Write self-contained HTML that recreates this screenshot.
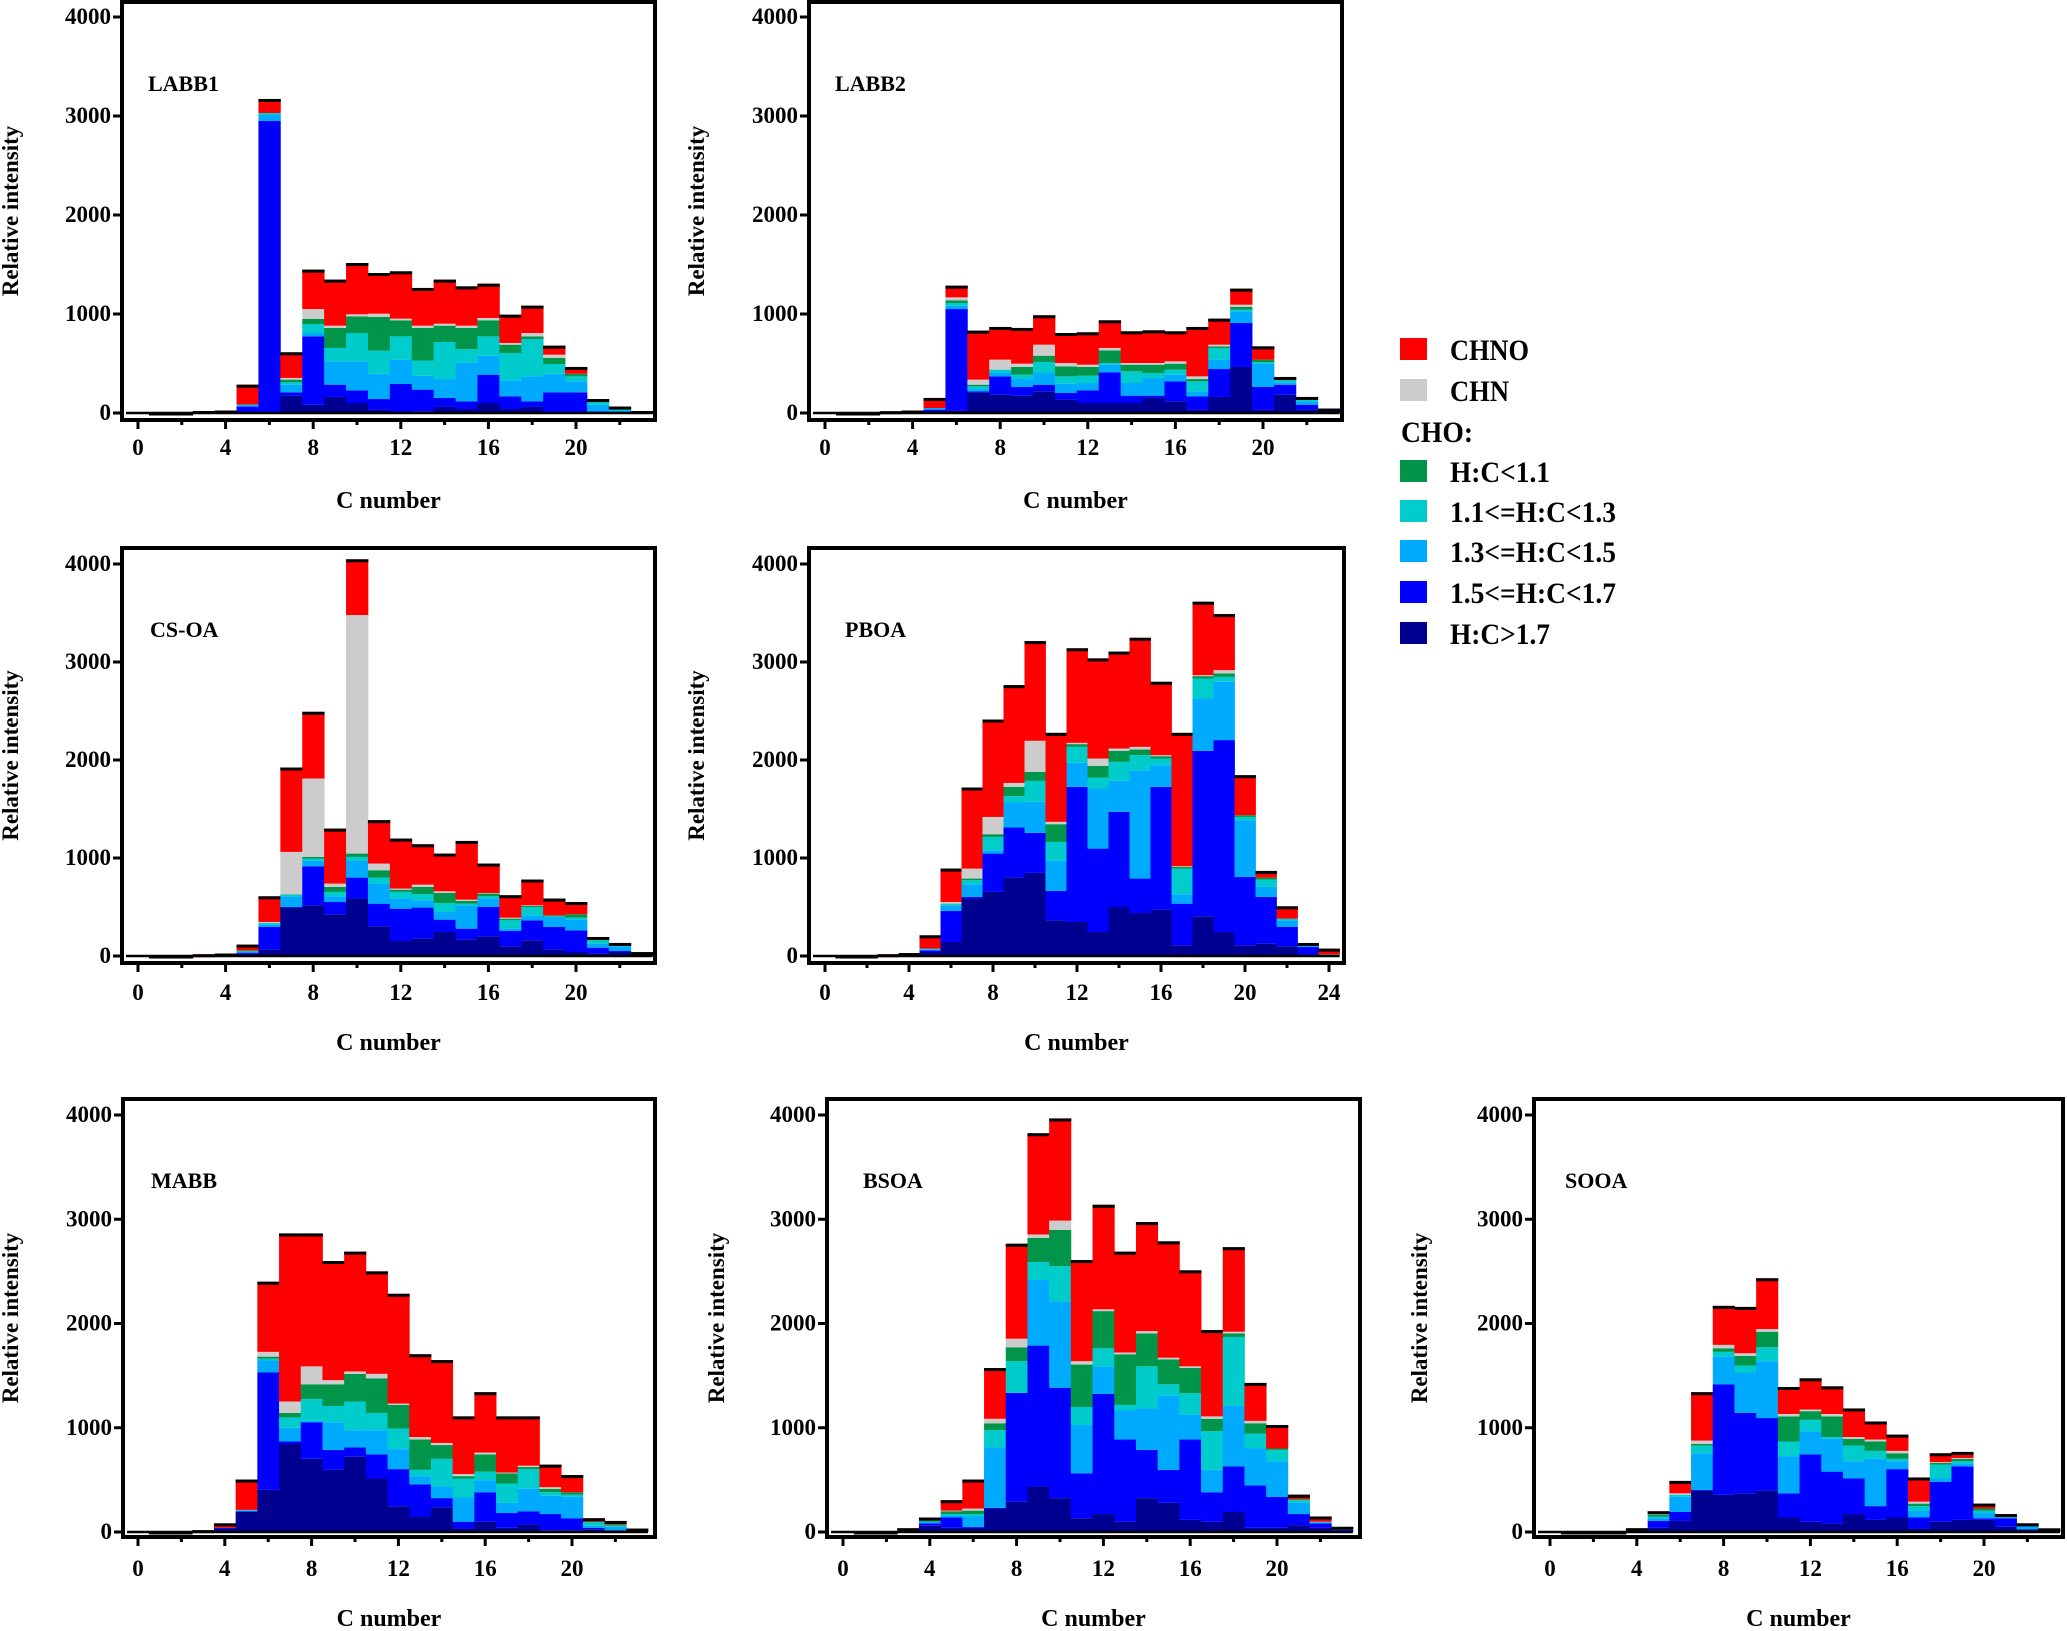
<!DOCTYPE html>
<html><head><meta charset="utf-8"><style>
html,body{margin:0;padding:0;background:#fff;}
svg{display:block;font-family:"Liberation Serif",serif;font-weight:bold;}
</style></head><body>
<svg id="chart" width="2067" height="1631" viewBox="0 0 2067 1631" xmlns="http://www.w3.org/2000/svg">
<g id="legend">
  <rect x="1400" y="338" width="27" height="22" fill="#ff0000"/>
  <text x="1450" y="360" font-size="30" textLength="79" lengthAdjust="spacingAndGlyphs">CHNO</text>
  <rect x="1400" y="379" width="27" height="22" fill="#cccccc"/>
  <text x="1450" y="401" font-size="30" textLength="59" lengthAdjust="spacingAndGlyphs">CHN</text>
  <text x="1401" y="442" font-size="30" textLength="72" lengthAdjust="spacingAndGlyphs">CHO:</text>
  <rect x="1400" y="460" width="27" height="22" fill="#009548"/>
  <text x="1450" y="482" font-size="30" textLength="100" lengthAdjust="spacingAndGlyphs">H:C&lt;1.1</text>
  <rect x="1400" y="500" width="27" height="22" fill="#00cccc"/>
  <text x="1450" y="522" font-size="30" textLength="166" lengthAdjust="spacingAndGlyphs">1.1&lt;=H:C&lt;1.3</text>
  <rect x="1400" y="540" width="27" height="22" fill="#00aaff"/>
  <text x="1450" y="562" font-size="30" textLength="166" lengthAdjust="spacingAndGlyphs">1.3&lt;=H:C&lt;1.5</text>
  <rect x="1400" y="581" width="27" height="22" fill="#0000ff"/>
  <text x="1450" y="603" font-size="30" textLength="166" lengthAdjust="spacingAndGlyphs">1.5&lt;=H:C&lt;1.7</text>
  <rect x="1400" y="622" width="27" height="22" fill="#000090"/>
  <text x="1450" y="644" font-size="30" textLength="100" lengthAdjust="spacingAndGlyphs">H:C&gt;1.7</text>
</g>
</svg>
<script>
// Categories: carbon numbers
const cNumbers23 = [1,2,3,4,5,6,7,8,9,10,11,12,13,14,15,16,17,18,19,20,21,22,23];
const cNumbers24 = [1,2,3,4,5,6,7,8,9,10,11,12,13,14,15,16,17,18,19,20,21,22,23,24];
const yTickValues = [0,1000,2000,3000,4000];
const seriesNames = ["hc-gt-1-7","hc-1-5-1-7","hc-1-3-1-5","hc-1-1-1-3","hc-lt-1-1","chn","chno"];
const seriesColors = ["#000090","#0000ff","#00aaff","#00cccc","#009548","#cccccc","#ff0000"];

// Cumulative stack tops (bottom to top)
// LABB1
const labb1Navy  = [3,3,10,0,10,0,175,84,162,101,34,7,17,61,40,101,40,61,7,7,0,0,0];
const labb1Blue  = [3,3,10,20,65,2950,209,774,286,229,141,293,236,152,118,387,168,118,209,209,17,10,15];
const labb1LBlue = [3,3,10,20,80,3010,286,808,522,522,397,539,377,343,512,579,330,370,397,320,84,25,15];
const labb1Cyan  = [3,3,15,20,85,3030,310,899,657,808,630,774,529,717,646,774,606,747,495,370,118,40,15];
const labb1Green = [3,3,15,20,85,3030,337,950,859,976,970,936,859,882,859,936,690,774,556,397,135,45,15];
const labb1Gray  = [3,3,15,20,85,3030,354,1050,882,997,1003,953,882,902,882,960,707,808,589,397,135,45,15];
const labb1Red   = [5,5,20,25,286,3172,613,1448,1347,1515,1414,1431,1263,1347,1279,1306,993,1084,680,465,141,65,20];
// LABB2
const labb2Navy  = [3,3,5,20,20,27,209,185,175,219,135,101,101,101,152,118,34,162,465,34,185,34,10];
const labb2Blue  = [3,3,5,20,34,1050,219,370,263,286,202,229,411,175,175,320,168,444,909,263,286,84,20];
const labb2LBlue = [3,3,5,20,50,1084,242,411,343,404,296,303,488,303,354,387,219,539,1027,498,310,118,25];
const labb2Cyan  = [3,3,15,20,50,1111,269,438,387,515,370,377,505,421,404,438,320,657,1044,512,330,135,45];
const labb2Green = [3,3,15,20,50,1138,286,438,465,579,471,465,633,488,488,498,343,673,1071,539,343,141,45];
const labb2Gray  = [3,3,15,20,50,1168,337,539,498,690,505,488,657,505,505,522,370,690,1094,539,343,141,45];
const labb2Red   = [5,5,18,25,152,1286,832,869,859,987,808,815,936,825,835,825,869,953,1256,673,364,162,45];
// CS-OA
const csoaNavy  = [3,3,5,20,24,65,494,517,426,586,303,153,177,245,167,201,99,160,65,41,24,41,10];
const csoaBlue  = [3,3,5,20,34,296,500,916,551,800,534,483,494,371,279,500,255,364,296,262,85,51,15];
const csoaLBlue = [3,3,5,20,41,323,609,970,609,970,739,586,569,449,517,586,279,415,398,371,126,99,30];
const csoaCyan  = [3,3,15,20,48,337,626,994,654,1011,800,654,630,541,534,609,364,500,405,391,160,109,40];
const csoaGreen = [3,3,15,20,58,337,630,1011,705,1045,875,677,705,643,562,637,381,511,415,426,177,109,40];
const csoaGray  = [3,3,15,20,58,347,1062,1811,739,3479,943,688,728,660,575,643,391,517,415,426,177,109,40];
const csoaRed   = [5,5,18,25,116,609,1923,2492,1300,4048,1386,1198,1140,1045,1174,943,620,780,586,551,194,133,40];
// PBOA
const pboaNavy  = [3,3,5,25,41,143,586,654,800,848,364,347,245,500,439,473,109,405,245,109,126,99,7,5];
const pboaBlue  = [3,3,5,25,58,460,603,1045,1311,1257,664,1726,1096,1471,790,1726,534,2094,2203,807,603,296,92,5];
const pboaLBlue = [3,3,5,25,65,517,732,1079,1566,1573,970,1971,1709,1787,1896,1947,630,2628,2798,1386,705,364,109,5];
const pboaCyan  = [3,3,15,25,75,528,773,1215,1631,1787,1164,2134,1821,1981,2049,2015,892,2832,2849,1419,779,381,133,17];
const pboaGreen = [3,3,15,25,75,534,790,1243,1726,1879,1345,2162,1940,2094,2107,2039,909,2856,2883,1436,800,381,133,17];
const pboaGray  = [3,3,15,25,75,551,892,1419,1766,2196,1369,2175,2015,2117,2134,2049,916,2866,2917,1436,800,381,133,17];
const pboaRed   = [5,5,18,30,211,892,1719,2413,2764,3213,2277,3140,3037,3106,3247,2798,2277,3615,3489,1845,868,507,133,75];
// MABB
const mabbNavy  = [3,3,15,33,192,404,844,702,596,722,513,248,149,238,33,99,40,73,17,17,26,17,10];
const mabbBlue  = [3,3,15,40,199,1530,868,1053,788,811,745,603,457,325,99,381,182,199,172,132,40,17,10];
const mabbLBlue = [3,3,15,40,205,1649,1000,1066,1053,977,977,795,536,437,331,497,281,414,348,338,60,50,10];
const mabbCyan  = [3,3,15,40,212,1662,1099,1275,1209,1252,1142,993,596,702,513,579,464,603,381,358,93,60,33];
const mabbGreen = [3,3,15,40,212,1682,1142,1417,1417,1517,1474,1219,887,834,536,745,563,623,414,381,99,73,33];
const mabbGray  = [3,3,15,40,212,1728,1252,1589,1457,1540,1517,1232,911,854,556,762,570,636,430,381,99,73,33];
const mabbRed   = [5,5,18,83,503,2401,2864,2864,2599,2689,2500,2285,1705,1649,1109,1341,1109,1109,646,546,132,106,33];
// BSOA
const bsoaNavy  = [3,3,10,60,40,40,225,291,437,325,132,172,99,325,281,116,99,192,40,40,66,40,10];
const bsoaBlue  = [3,3,10,83,139,50,232,1334,1788,1384,563,1325,887,788,596,887,381,629,447,338,172,83,20];
const bsoaLBlue = [3,3,10,99,159,149,811,1334,2417,2212,1026,1589,1166,1185,1308,1126,596,1209,801,679,281,93,25];
const bsoaCyan  = [3,3,20,99,172,172,977,1639,2589,2550,1199,1762,1219,1589,1417,1331,967,1871,944,788,305,99,50];
const bsoaGreen = [3,3,33,116,199,205,1043,1772,2821,2897,1606,2119,1705,1904,1656,1573,1086,1904,1043,801,315,99,50];
const bsoaGray  = [3,3,33,116,205,225,1086,1854,2854,2987,1639,2136,1722,1927,1672,1589,1109,1921,1066,801,315,99,50];
const bsoaRed   = [5,5,36,139,305,503,1573,2765,3825,3967,2609,3139,2689,2973,2788,2510,1937,2732,1430,1026,358,149,50];
// SOOA
const sooaNavy  = [3,3,3,33,40,106,397,358,371,397,139,99,83,172,116,139,33,99,116,116,50,26,10];
const sooaBlue  = [3,3,3,33,106,192,404,1417,1143,1093,371,745,579,513,248,603,139,480,629,132,132,26,20];
const sooaLBlue = [3,3,3,33,132,338,755,1682,1530,1639,728,967,894,679,702,679,205,513,656,182,139,60,35];
const sooaCyan  = [3,3,3,33,149,358,828,1728,1596,1772,868,1076,911,828,778,702,248,646,679,205,149,60,35];
const sooaGreen = [3,3,3,33,166,358,844,1762,1689,1921,1109,1159,1109,894,868,755,272,662,702,225,172,83,35];
const sooaGray  = [3,3,3,33,182,371,877,1795,1715,1947,1132,1175,1132,911,887,778,291,670,710,225,172,83,35];
const sooaRed   = [5,5,5,36,199,490,1341,2169,2159,2434,1391,1474,1397,1185,1060,934,523,755,768,272,172,83,35];

const SVGNS = "http://www.w3.org/2000/svg";
const svg = document.getElementById('chart');
function mk(tag, attrs, parent) {
  const e = document.createElementNS(SVGNS, tag);
  for (const k in attrs) e.setAttribute(k, attrs[k]);
  parent.appendChild(e);
  return e;
}

const panels = [
  {id:"labb1", label:"LABB1", cats:cNumbers23, series:[labb1Navy,labb1Blue,labb1LBlue,labb1Cyan,labb1Green,labb1Gray,labb1Red],
   L:122,R:655,T:2,B:420,x0:138,unit:21.9,y0:413,k:99,tickY:455,titleY:508,ytX:10,maxTick:22,lblDx:26},
  {id:"labb2", label:"LABB2", cats:cNumbers23, series:[labb2Navy,labb2Blue,labb2LBlue,labb2Cyan,labb2Green,labb2Gray,labb2Red],
   L:809,R:1342,T:2,B:420,x0:825,unit:21.9,y0:413,k:99,tickY:455,titleY:508,ytX:696,maxTick:22,lblDx:26},
  {id:"cs-oa", label:"CS-OA", cats:cNumbers23, series:[csoaNavy,csoaBlue,csoaLBlue,csoaCyan,csoaGreen,csoaGray,csoaRed],
   L:122,R:655,T:548,B:963,x0:138,unit:21.9,y0:956,k:98,tickY:1000,titleY:1050,ytX:10,maxTick:22,lblDx:28},
  {id:"pboa", label:"PBOA", cats:cNumbers24, series:[pboaNavy,pboaBlue,pboaLBlue,pboaCyan,pboaGreen,pboaGray,pboaRed],
   L:809,R:1344,T:548,B:963,x0:825,unit:21.0,y0:956,k:98,tickY:1000,titleY:1050,ytX:696,maxTick:24,lblDx:36},
  {id:"mabb", label:"MABB", cats:cNumbers23, series:[mabbNavy,mabbBlue,mabbLBlue,mabbCyan,mabbGreen,mabbGray,mabbRed],
   L:123,R:655,T:1099,B:1537,x0:138,unit:21.7,y0:1532,k:104.25,tickY:1576,titleY:1626,ytX:10,maxTick:22,lblDx:28},
  {id:"bsoa", label:"BSOA", cats:cNumbers23, series:[bsoaNavy,bsoaBlue,bsoaLBlue,bsoaCyan,bsoaGreen,bsoaGray,bsoaRed],
   L:827,R:1360,T:1099,B:1537,x0:843,unit:21.7,y0:1532,k:104.25,tickY:1576,titleY:1626,ytX:716,maxTick:22,lblDx:36},
  {id:"sooa", label:"SOOA", cats:cNumbers23, series:[sooaNavy,sooaBlue,sooaLBlue,sooaCyan,sooaGreen,sooaGray,sooaRed],
   L:1534,R:2063,T:1099,B:1537,x0:1550,unit:21.7,y0:1532,k:104.25,tickY:1576,titleY:1626,ytX:1419,maxTick:22,lblDx:31}
];

panels.forEach(p => {
  const xPix = c => p.x0 + c * p.unit;
  const yPix = v => p.y0 - v / 1000 * p.k;
  const g = mk('g', {}, svg);
  
  

  p.cats.forEach((c, i) => {
    let prev = 0;
    const xl = xPix(c - 0.5), w = p.unit + 0.4;
    p.series.forEach((arr, s) => {
      const top = Math.max(prev, arr[i]);
      if (top > prev) {
        const r = mk('rect', {x:xl, y:yPix(top), width:w, height:yPix(prev)-yPix(top), fill:seriesColors[s]}, g);
        
        
      }
      prev = top;
    });
    const cap = mk('rect', {x:xl, y:yPix(prev), width:w, height:3, fill:"#000"}, g);
    
    
  });

  const base = mk('line', {x1:p.L+4, x2:xPix(p.cats[p.cats.length-1]+0.5), y1:p.y0, y2:p.y0, stroke:"#000", "stroke-width":2.5}, g);
  
  

  const fr = mk('rect', {x:p.L, y:p.T, width:p.R-p.L, height:p.B-p.T, fill:"none", stroke:"#000", "stroke-width":4}, g);
  
  

  yTickValues.forEach(v => {
    const t = mk('line', {x1:p.L-9, x2:p.L, y1:yPix(v), y2:yPix(v), stroke:"#000", "stroke-width":3}, g);
    
    
    const tl = mk('text', {x:p.L-11, y:yPix(v)+7, "font-size":23, "text-anchor":"end"}, g);
    tl.textContent = String(v);
    
    
  });

  for (let c = 0; c <= p.maxTick; c += 2) {
    const major = c % 4 === 0;
    const t = mk('line', {x1:xPix(c), x2:xPix(c), y1:p.B, y2:p.B + (major ? 9 : 5), stroke:"#000", "stroke-width":3}, g);
    
    
    if (major) {
      const tl = mk('text', {x:xPix(c), y:p.tickY, "font-size":23, "text-anchor":"middle"}, g);
      tl.textContent = String(c);
      
      
    }
  }

  const xt = mk('text', {x:(p.L+p.R)/2, y:p.titleY, "font-size":24, "text-anchor":"middle"}, g);
  xt.textContent = "C number";
  
  
  const cy = (p.T + p.B) / 2;
  const yt = mk('text', {x:p.ytX+8, y:cy, "font-size":23, "text-anchor":"middle", transform:"rotate(-90 " + (p.ytX+8) + " " + cy + ")"}, g);
  yt.textContent = "Relative intensity";
  
  

  const pl = mk('text', {x:p.L+p.lblDx, y:p.T+89, "font-size":22}, g);
  pl.textContent = p.label;
  
  
});
</script>
</body></html>
